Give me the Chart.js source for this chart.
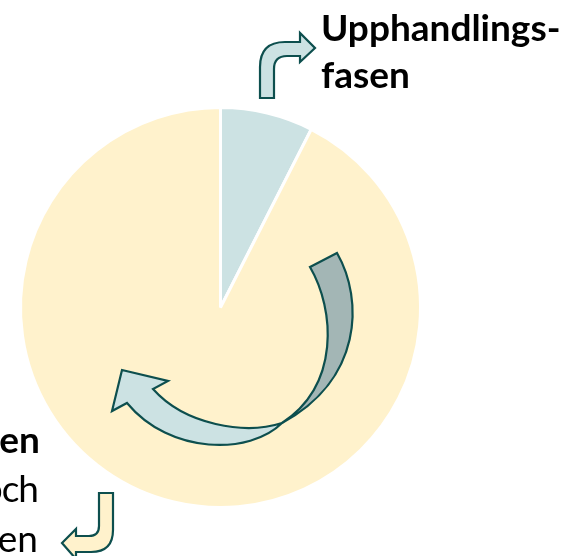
<!DOCTYPE html>
<html>
<head>
<meta charset="utf-8">
<script src="https://cdn.jsdelivr.net/npm/chart.js@4"></script>
<style>
  html, body { margin: 0; padding: 0; background: #fff; }
  body { width: 564px; height: 556px; position: relative; overflow: hidden; }
  #pie { position: absolute; left: 0; top: 0; }
  .lbl { position: absolute; font-family: Lato, "Open Sans", sans-serif; font-size: 37px; color: #000; white-space: nowrap; line-height: 1; }
  .b { font-weight: bold; }
  .r { text-align: right; }
</style>
</head>
<body>
<canvas id="pie" width="564" height="556"></canvas>
<div class="lbl b" style="left:321px; top:8px;">Upphandlings-</div>
<div class="lbl b" style="left:321px; top:55px;">fasen</div>
<div class="lbl b r" style="right:524px; top:420px;">en</div>
<div class="lbl r" style="right:526px; top:469px; letter-spacing:-1px;">och</div>
<div class="lbl r" style="right:526px; top:519px;">en</div>
<script>
const phases      = ['Upphandlingsfasen', 'Övriga faser'];
const shares      = [7.5, 92.5];
const sliceColors = ['#CCE2E3', '#FFF2CC'];

const STROKE = '#0D4F4E';

// decorative arrows, in px of the reference frame (pie centre 220.5, 307.5, radius 200)
const toPx = (chart) => {
  const arc = chart.getDatasetMeta(0).data[0];
  const s = arc.outerRadius / 200;
  return (x, y) => [arc.x + (x - 220.5) * s, arc.y + (y - 307.5) * s];
};

const arrowPlugin = {
  id: 'arrows',
  afterDatasetsDraw(chart) {
    const ctx = chart.ctx;
    const P = toPx(chart);
    ctx.save();
    ctx.lineWidth = 2.2;
    ctx.lineJoin = 'miter';
    ctx.strokeStyle = STROKE;

    const M = (x, y) => ctx.moveTo(...P(x, y));
    const L = (x, y) => ctx.lineTo(...P(x, y));
    const Q = (a, b, x, y) => ctx.quadraticCurveTo(...P(a, b), ...P(x, y));
    const C = (a, b, c, d, x, y) => ctx.bezierCurveTo(...P(a, b), ...P(c, d), ...P(x, y));

    // back side of the circular arrow (darker band)
    ctx.beginPath();
    M(310, 267); L(337, 253);
    C(364, 300, 362, 380, 282, 423);
    C(340, 385, 335, 310, 310, 267);
    ctx.closePath();
    ctx.fillStyle = '#A3B6B5';
    ctx.fill(); ctx.stroke();

    // front side of the circular arrow with head
    ctx.beginPath();
    M(282, 423);
    C(250, 455, 170, 455, 127, 403);
    L(112, 411); L(122, 370); L(168, 381); L(153, 389);
    C(185, 425, 245, 435, 282, 423);
    ctx.closePath();
    ctx.fillStyle = '#CCE2E3';
    ctx.fill(); ctx.stroke();

    // bent arrow, top right
    ctx.beginPath();
    M(260, 98); L(260, 67); Q(260, 42, 285, 42); L(300, 42); L(300, 33);
    L(315, 48); L(300, 62); L(300, 56); L(287, 56); Q(274, 56, 274, 69); L(274, 98);
    ctx.closePath();
    ctx.fillStyle = '#CCE2E3';
    ctx.fill(); ctx.stroke();

    // bent arrow, bottom left
    ctx.beginPath();
    M(99, 493); L(113, 493); L(113, 530); Q(113, 552, 91, 552); L(76, 552); L(76, 559);
    L(62, 543); L(76, 529); L(76, 536); L(89, 536); Q(99, 536, 99, 526);
    ctx.closePath();
    ctx.fillStyle = '#FFF2CC';
    ctx.fill(); ctx.stroke();

    ctx.restore();
  }
};

new Chart(document.getElementById('pie'), {
  type: 'pie',
  data: {
    labels: phases,
    datasets: [{
      data: shares,
      backgroundColor: sliceColors,
      borderColor: '#ffffff',
      borderWidth: 3
    }]
  },
  options: {
    responsive: false,
    animation: false,
    layout: { padding: { left: 19, top: 106, right: 142, bottom: 47 } },
    plugins: {
      legend: { display: false },
      tooltip: { enabled: false }
    }
  },
  plugins: [arrowPlugin]
});
</script>
</body>
</html>
